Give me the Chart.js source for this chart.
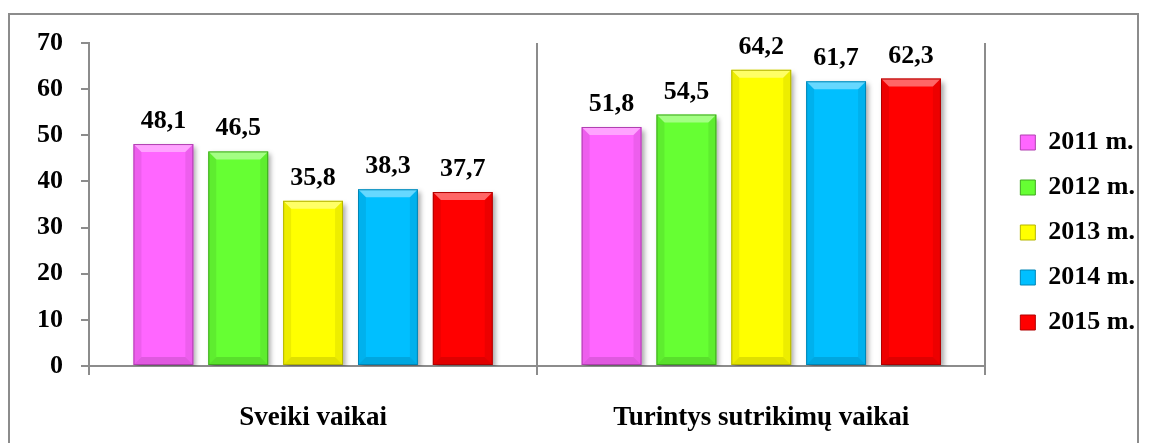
<!DOCTYPE html>
<html>
<head>
<meta charset="utf-8">
<script src="https://cdn.jsdelivr.net/npm/chart.js@4/dist/chart.umd.min.js"></script>
<style>
  html, body { margin: 0; padding: 0; background: #fff; }
  #wrap { width: 1149px; height: 443px; position: relative; }
</style>
</head>
<body>
<div id="wrap"><canvas id="myChart" width="1149" height="443"></canvas></div>
<script>
// Chart data
const categories = ['Sveiki vaikai', 'Turintys sutrikimų vaikai'];
const years = ['2011 m.', '2012 m.', '2013 m.', '2014 m.', '2015 m.'];
const values2011 = [48.1, 51.8];
const values2012 = [46.5, 54.5];
const values2013 = [35.8, 64.2];
const values2014 = [38.3, 61.7];
const values2015 = [37.7, 62.3];
const yTicks = [0, 10, 20, 30, 40, 50, 60, 70];

const fills = ['#FF66FF', '#66FF33', '#FFFF00', '#00BFFF', '#FF0000'];
const edges = ['#B040B0', '#3FA81F', '#B5B500', '#0085B5', '#B00000'];
const FONT = "'Liberation Serif', 'Times New Roman', serif";

// frame around the whole chart
const framePlugin = {
    id: 'frame',
    beforeDraw(chart) {
        const c = chart.ctx;
        c.save();
        c.strokeStyle = '#8c8c8c';
        c.lineWidth = 2;
        c.strokeRect(9, 14, 1129, 440);
        c.restore();
    }
};

// drop shadow + bevel on the bars, then value labels
const bevelPlugin = {
    id: 'bevel',
    beforeDatasetsDraw(chart) {
        const c = chart.ctx;
        c.save();
        c.shadowColor = 'rgba(0,0,0,0.35)';
        c.shadowBlur = 5;
        c.shadowOffsetX = 3;
        c.shadowOffsetY = 3;
    },
    afterDatasetsDraw(chart) {
        const c = chart.ctx;
        c.restore();
        chart.data.datasets.forEach((ds, i) => {
            chart.getDatasetMeta(i).data.forEach(bar => {
                const l = bar.x - bar.width / 2, r = bar.x + bar.width / 2;
                const t = bar.y, b = bar.base, d = 8;
                c.save();
                // top light
                c.fillStyle = 'rgba(255,255,255,0.4)';
                c.beginPath();
                c.moveTo(l, t); c.lineTo(r, t); c.lineTo(r - d, t + d); c.lineTo(l + d, t + d);
                c.closePath(); c.fill();
                // sides
                c.fillStyle = 'rgba(0,0,0,0.07)';
                c.beginPath();
                c.moveTo(l, t); c.lineTo(l + d, t + d); c.lineTo(l + d, b - d); c.lineTo(l, b);
                c.closePath(); c.fill();
                c.beginPath();
                c.moveTo(r, t); c.lineTo(r - d, t + d); c.lineTo(r - d, b - d); c.lineTo(r, b);
                c.closePath(); c.fill();
                // bottom dark
                c.fillStyle = 'rgba(0,0,0,0.12)';
                c.beginPath();
                c.moveTo(l, b); c.lineTo(r, b); c.lineTo(r - d, b - d); c.lineTo(l + d, b - d);
                c.closePath(); c.fill();
                c.strokeStyle = edges[i];
                c.lineWidth = 1;
                c.strokeRect(l + 0.5, t + 0.5, bar.width - 1, b - t - 1);
                c.restore();
            });
        });
        // value labels
        c.save();
        c.font = 'bold 26px ' + FONT;
        c.fillStyle = '#000';
        c.textAlign = 'center';
        c.textBaseline = 'alphabetic';
        chart.data.datasets.forEach((ds, i) => {
            chart.getDatasetMeta(i).data.forEach((bar, j) => {
                c.fillText(ds.data[j].toFixed(1).replace('.', ','), bar.x, bar.y - 16);
            });
        });
        c.restore();
    }
};

const seriesValues = [values2011, values2012, values2013, values2014, values2015];

// invisible scale used only to reserve space
const spacer = (axis, position, size) => ({
    axis: axis,
    position: position,
    display: true,
    afterFit(scale) {
        if (axis === 'x') scale.height = size; else scale.width = size;
    },
    grid: { display: false },
    border: { display: false },
    ticks: { display: false }
});

const ctx = document.getElementById('myChart');
new Chart(ctx, {
    type: 'bar',
    data: {
        labels: categories,
        datasets: years.map((y, i) => ({
            label: y,
            data: seriesValues[i],
            backgroundColor: fills[i],
            borderColor: edges[i],
            borderWidth: 0,
            categoryPercentage: 0.835,
            barPercentage: 0.8
        }))
    },
    options: {
        responsive: false,
        animation: false,
        layout: { padding: { left: 38, top: 22, right: 4, bottom: 0 } },
        plugins: {
            legend: {
                position: 'right',
                labels: {
                    color: '#000',
                    boxWidth: 15,
                    boxHeight: 15,
                    padding: 19,
                    font: { family: FONT, size: 26, weight: 'bold' },
                    generateLabels(chart) {
                        return chart.data.datasets.map((ds, i) => ({
                            text: ds.label,
                            fillStyle: fills[i],
                            strokeStyle: edges[i],
                            lineWidth: 1,
                            datasetIndex: i
                        }));
                    }
                }
            },
            tooltip: { enabled: false }
        },
        scales: {
            x: {
                afterFit(scale) { scale.height = 77; },
                grid: {
                    display: true,
                    color: '#8c8c8c',
                    lineWidth: 2,
                    tickLength: 9,
                    drawOnChartArea: true
                },
                border: { color: '#8c8c8c', width: 2 },
                ticks: {
                    color: '#000',
                    padding: 27,
                    font: { family: FONT, size: 27, weight: 'bold' }
                }
            },
            y: {
                min: 0,
                max: 70,
                afterFit(scale) { scale.width = 51; },
                afterBuildTicks(axis) {
                    axis.ticks = yTicks.map(v => ({ value: v }));
                },
                grid: {
                    drawOnChartArea: false,
                    color: '#8c8c8c',
                    lineWidth: 2,
                    tickLength: 8
                },
                border: { color: '#8c8c8c', width: 2 },
                ticks: {
                    color: '#000',
                    padding: 18,
                    font: { family: FONT, size: 26, weight: 'bold' }
                }
            },
            topGap: spacer('x', 'top', 21),
            rightGap: spacer('y', 'right', 16)
        }
    },
    plugins: [framePlugin, bevelPlugin]
});
</script>
</body>
</html>
